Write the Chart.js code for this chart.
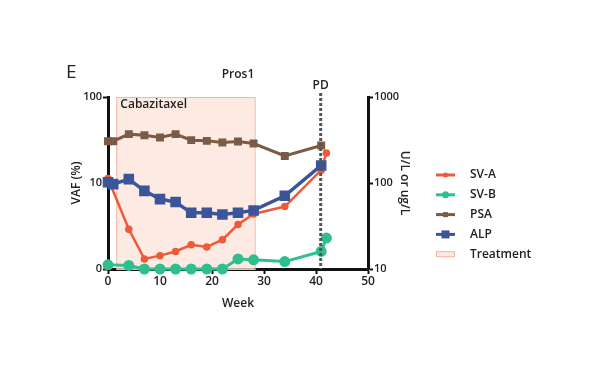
<!DOCTYPE html>
<html>
<head>
<meta charset="utf-8">
<script src="https://cdn.jsdelivr.net/npm/chart.js@4"></script>
<style>
  html, body { margin: 0; padding: 0; background: #fff; }
  #wrap { width: 600px; height: 371px; position: relative; }
</style>
</head>
<body>
<div id="wrap"><canvas id="myChart"></canvas></div>
<script>
// weeks for each series
const weeksVaf = [0, 4, 7, 10, 13, 16, 19, 22, 25, 28, 34, 41, 42];
const weeksLab = [0, 1, 4, 7, 10, 13, 16, 19, 22, 25, 28, 34, 41];

// VAF (%) - bottom of the log axis is labelled 0
const svA = [11.3, 2.9, 1.31, 1.43, 1.6, 1.91, 1.8, 2.19, 3.29, 4.37, 5.32, 14.1, 22.4];
const svB = [1.12, 1.1, 1.0, 1.0, 1.0, 1.0, 1.0, 1.0, 1.31, 1.28, 1.22, 1.6, 2.29];

// U/L or ug/L
const psa = [306, 306, 370, 359, 338, 370, 315, 309, 296, 304, 288, 206, 273];
const alp = [102, 97, 111, 81, 65, 60, 45, 45, 43, 45, 48, 71, 160];

const leftTicks = [1, 10, 100];
const leftTickLabels = ['0', '10', '100'];
const rightTicks = [10, 100, 1000];
const xTicks = [0, 10, 20, 30, 40, 50];

const treatStart = 1.6;
const treatEnd = 28.2;
const pdWeek = 40.9;

const colors = {
    svA: '#ee5a3a',
    svB: '#2fbf8f',
    psa: '#7b5b45',
    alp: '#3b5598',
    treatFill: 'rgba(252, 228, 218, 0.75)',
    treatLine: '#f6b4a2'
};

const font = "'Open Sans', 'Lato', sans-serif";
const textColor = '#222';

function pts(xs, ys) {
    return xs.map((x, i) => ({ x: x, y: ys[i] }));
}

const background = {
    id: 'background',
    beforeDatasetsDraw(chart) {
        const { ctx, chartArea, scales } = chart;
        const x0 = scales.x.getPixelForValue(treatStart);
        const x1 = scales.x.getPixelForValue(treatEnd);
        ctx.save();
        ctx.fillStyle = colors.treatFill;
        ctx.fillRect(x0, chartArea.top, x1 - x0, chartArea.bottom - chartArea.top);
        ctx.strokeStyle = colors.treatLine;
        ctx.lineWidth = 1;
        ctx.strokeRect(x0 + 0.5, chartArea.top + 0.5, x1 - x0, chartArea.bottom - chartArea.top);
        ctx.fillStyle = textColor;
        ctx.font = '600 12px ' + font;
        ctx.textBaseline = 'middle';
        ctx.fillText('Cabazitaxel', x0 + 4, chartArea.top + 8);
        ctx.restore();
    },
    afterDatasetsDraw(chart) {
        const { ctx, chartArea, scales } = chart;
        const px = scales.x.getPixelForValue(pdWeek);
        ctx.save();
        ctx.strokeStyle = '#555';
        ctx.lineWidth = 3;
        ctx.setLineDash([3, 2]);
        ctx.beginPath();
        ctx.moveTo(px, chartArea.top - 4);
        ctx.lineTo(px, chartArea.bottom);
        ctx.stroke();
        ctx.setLineDash([]);
        ctx.fillStyle = textColor;
        ctx.font = '600 12px ' + font;
        ctx.textAlign = 'center';
        ctx.textBaseline = 'middle';
        ctx.fillText('PD', px, chartArea.top - 11);
        ctx.restore();
    },
    afterDraw(chart) {
        const { ctx, chartArea } = chart;
        ctx.save();
        ctx.fillStyle = textColor;
        ctx.textBaseline = 'middle';
        ctx.font = '19px ' + font;
        ctx.fillText('E', 66, 73);
        ctx.font = '600 12px ' + font;
        ctx.textAlign = 'center';
        ctx.fillText('Pros1', (chartArea.left + chartArea.right) / 2, 75);

        // legend
        ctx.textAlign = 'left';
        const items = [
            { label: 'SV-A', c: colors.svA, shape: 'circle', r: 2.5 },
            { label: 'SV-B', c: colors.svB, shape: 'circle', r: 3.5 },
            { label: 'PSA', c: colors.psa, shape: 'rect', r: 2.5 },
            { label: 'ALP', c: colors.alp, shape: 'rect', r: 4 },
            { label: 'Treatment' }
        ];
        const lx = 436, ly = 175, step = 19.8;
        items.forEach((it, i) => {
            const y = ly + i * step;
            if (it.c) {
                ctx.strokeStyle = it.c;
                ctx.fillStyle = it.c;
                ctx.lineWidth = 3;
                ctx.beginPath();
                ctx.moveTo(lx, y);
                ctx.lineTo(lx + 19, y);
                ctx.stroke();
                ctx.beginPath();
                if (it.shape === 'circle') {
                    ctx.arc(lx + 9.5, y, it.r, 0, Math.PI * 2);
                } else {
                    ctx.rect(lx + 9.5 - it.r, y - it.r, it.r * 2, it.r * 2);
                }
                ctx.fill();
            } else {
                ctx.fillStyle = colors.treatFill;
                ctx.fillRect(lx, y - 3, 19, 6);
                ctx.strokeStyle = colors.treatLine;
                ctx.lineWidth = 1;
                ctx.strokeRect(lx + 0.5, y - 2.5, 18, 5);
            }
            ctx.fillStyle = textColor;
            ctx.font = '600 12px ' + font;
            ctx.fillText(it.label, lx + 34, y);
        });
        ctx.restore();
    }
};

const ctx = document.getElementById('myChart');

new Chart(ctx, {
    type: 'line',
    data: {
        datasets: [
            {
                label: 'PSA',
                data: pts(weeksLab, psa),
                yAxisID: 'y2',
                borderColor: colors.psa,
                backgroundColor: colors.psa,
                borderWidth: 3,
                pointStyle: 'rect',
                pointRadius: 3.5,
                clip: false
            },
            {
                label: 'ALP',
                data: pts(weeksLab, alp),
                yAxisID: 'y2',
                borderColor: colors.alp,
                backgroundColor: colors.alp,
                borderWidth: 3.5,
                pointStyle: 'rect',
                pointRadius: 5,
                clip: false
            },
            {
                label: 'SV-A',
                data: pts(weeksVaf, svA),
                yAxisID: 'y',
                borderColor: colors.svA,
                backgroundColor: colors.svA,
                borderWidth: 2.5,
                pointRadius: 2.5,
                clip: false
            },
            {
                label: 'SV-B',
                data: pts(weeksVaf, svB),
                yAxisID: 'y',
                borderColor: colors.svB,
                backgroundColor: colors.svB,
                borderWidth: 3,
                pointRadius: 4,
                clip: false
            }
        ]
    },
    options: {
        responsive: true,
        maintainAspectRatio: false,
        animation: false,
        layout: { padding: { left: 69, right: 188, top: 97, bottom: 60 } },
        plugins: { legend: { display: false }, tooltip: { enabled: false } },
        elements: { line: { tension: 0 } },
        scales: {
            x: {
                type: 'linear',
                min: 0,
                max: 50,
                afterBuildTicks: (s) => { s.ticks = xTicks.map(v => ({ value: v })); },
                afterFit: (s) => { s.height = 42; },
                grid: { drawOnChartArea: false, tickLength: 5, tickWidth: 2, color: '#111' },
                border: { color: '#111', width: 3 },
                ticks: { color: textColor, font: { family: font, size: 12, weight: '600' }, padding: 0, maxRotation: 0 },
                title: { display: true, text: 'Week', color: textColor, font: { family: font, size: 12, weight: '600' }, padding: 0 }
            },
            y: {
                type: 'logarithmic',
                position: 'left',
                min: 1,
                max: 100,
                afterBuildTicks: (s) => { s.ticks = leftTicks.map(v => ({ value: v })); },
                afterFit: (s) => { s.width = 39; },
                grid: { drawOnChartArea: false, tickLength: 5, tickWidth: 2, color: '#111' },
                border: { color: '#111', width: 3 },
                ticks: {
                    color: textColor,
                    font: { family: font, size: 11, weight: '600' },
                    padding: 1,
                    callback: (v) => leftTickLabels[leftTicks.indexOf(v)]
                },
                title: { display: true, text: 'VAF (%)', color: textColor, font: { family: font, size: 12, weight: '600' }, padding: 0 }
            },
            y2: {
                type: 'logarithmic',
                position: 'right',
                min: 10,
                max: 1000,
                afterBuildTicks: (s) => { s.ticks = rightTicks.map(v => ({ value: v })); },
                afterFit: (s) => { s.width = 44; },
                grid: { drawOnChartArea: false, tickLength: 5, tickWidth: 2, color: '#111' },
                border: { color: '#111', width: 3 },
                ticks: {
                    color: textColor,
                    font: { family: font, size: 11, weight: '600' },
                    padding: 1,
                    callback: (v) => String(v)
                },
                title: { display: true, text: 'U/L or ug/L', color: textColor, font: { family: font, size: 12, weight: '600' }, padding: 0 }
            }
        }
    },
    plugins: [background]
});
</script>
</body>
</html>
